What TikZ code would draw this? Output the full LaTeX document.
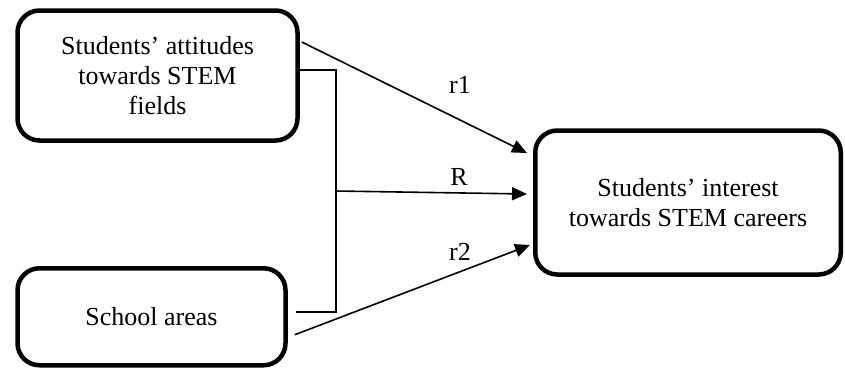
\documentclass[tikz,border=0pt]{standalone}
\usepackage{fontspec}
\setmainfont{Liberation Serif}
\usetikzlibrary{arrows.meta}
\begin{document}
\begin{tikzpicture}[x=1pt,y=-1pt,
  box/.style={draw=black, line width=4.5pt, rounded corners=22pt, align=center,
    font=\fontsize{26}{30}\selectfont, inner sep=0pt},
  conn/.style={line width=1.6pt},
  arr/.style={conn, -{Triangle[length=15pt,width=13pt]}},
  lbl/.style={font=\fontsize{26}{30}\selectfont, inner sep=0pt}]
\useasboundingbox (0,0) rectangle (845,368);
\node[box, minimum width=280pt, minimum height=130pt] (a) at (157.5,75.5)
  {Students’ attitudes\\towards STEM\\fields};
\node[box, minimum width=268pt, minimum height=97pt] (b) at (151.5,316.75)
  {School areas};
\node[box, minimum width=305.5pt, minimum height=144pt] (c) at (688,202.5)
  {Students’ interest\\towards STEM careers};
\coordinate (j) at (336,191);
% bracket
\draw[conn] ([yshift=5.5pt]a.east) -| (j) |- ([xshift=8pt,yshift=4.75pt]b.east);
% arrows
\draw[arr] ([xshift=2pt,yshift=33.5pt]a.east) -- ([xshift=-6pt,yshift=49.5pt]c.west);
\draw[arr] (j) -- ([xshift=-6pt,yshift=8.5pt]c.west);
\draw[arr] ([xshift=7pt,yshift=-18pt]b.east) -- ([xshift=-3pt,yshift=-42.5pt]c.west);
% labels
\node[lbl] (l1) at (460,85) {r1};
\node[lbl] (l2) at (459,177) {R};
\node[lbl] (l3) at (460,252) {r2};
\end{tikzpicture}
\end{document}
